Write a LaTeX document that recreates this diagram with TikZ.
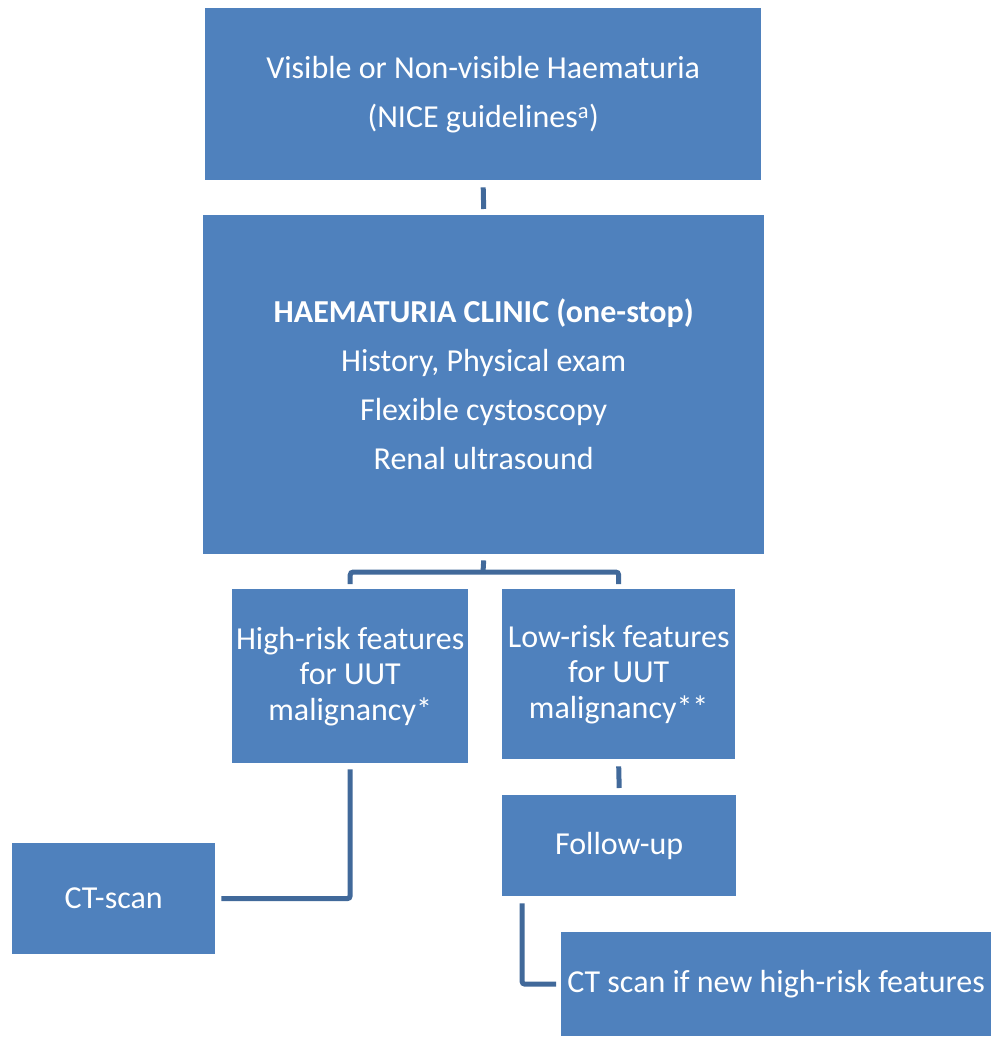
\documentclass[tikz,border=0pt]{standalone}
\usepackage{fontspec}
\setmainfont{Carlito}
\definecolor{boxblue}{HTML}{4F81BD}
\definecolor{lineblue}{HTML}{41699A}
\begin{document}
\begin{tikzpicture}[x=1pt,y=-1pt,
  box/.style={fill=boxblue, draw=none, text=white, align=center, inner sep=0pt, anchor=north west},
  conn/.style={draw=lineblue, line width=5pt, rounded corners=3pt},
  f48/.style={font=\fontsize{32}{49}\selectfont},
  f36/.style={font=\fontsize{32}{35.5}\selectfont}]
\useasboundingbox (0,0) rectangle (996,1038);
\node[box,f48,minimum width=556pt,minimum height=172pt] (top) at (205,8) {Visible or Non-visible Haematuria\\(NICE guidelines\textsuperscript{a})};
\node[box,f48,minimum width=561pt,minimum height=339pt] (clinic) at (203,215) {\textbf{HAEMATURIA CLINIC (one-stop)}\\History, Physical exam\\Flexible cystoscopy\\Renal ultrasound};
\node[box,f36,minimum width=236pt,minimum height=174pt] (hr) at (232,589) {High-risk features\\for UUT\\malignancy*};
\node[box,f36,minimum width=233pt,minimum height=170pt] (lr) at (502,589) {Low-risk features\\for UUT\\malignancy**};
\node[box,f36,minimum width=234pt,minimum height=101pt] (fu) at (502,795) {Follow-up};
\node[box,f36,minimum width=203pt,minimum height=111pt] (ct) at (12,843) {CT-scan};
\node[box,f36,minimum width=430pt,minimum height=104pt] (ctn) at (561,932) {CT scan if new high-risk features};
\coordinate (fork) at (483,572);
\draw[conn] ([yshift=-7pt]top.south) -- ([yshift=6pt]clinic.south |- clinic.north);
\draw[conn] ([yshift=-6pt]clinic.south) -- (fork);
\draw[conn] ([yshift=5pt]hr.north) |- (fork) -| ([yshift=5pt]lr.north);
\draw[conn] ([yshift=-6pt]hr.south) |- ([xshift=6pt]ct.east);
\draw[conn] ([yshift=-7pt]lr.south) -- ([yshift=7pt]fu.north);
\draw[conn] ([shift={(20pt,-7pt)}]fu.south west) |- ([xshift=-5pt]ctn.west);
\end{tikzpicture}
\end{document}
